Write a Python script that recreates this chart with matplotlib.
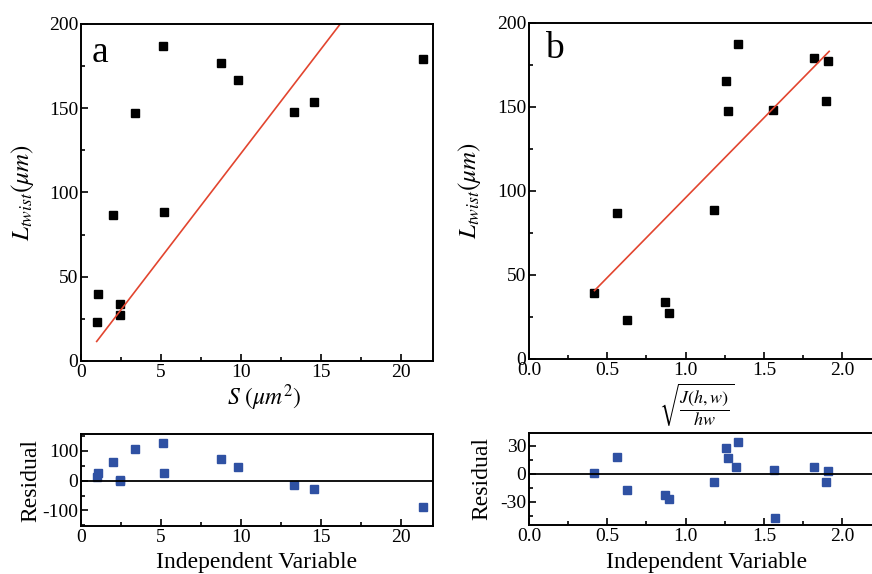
import numpy as np
import matplotlib
matplotlib.use('Agg')
import matplotlib.pyplot as plt
from matplotlib.ticker import MultipleLocator

plt.rcParams['font.family'] = ['Liberation Serif', 'DejaVu Serif']
plt.rcParams['mathtext.fontset'] = 'stix'
plt.rcParams['axes.unicode_minus'] = False

# Panel a: L_twist vs S
s_area = np.array([0.98, 1.08, 2.02, 2.42, 2.46, 3.39, 5.10, 5.18, 8.74, 9.84, 13.3, 14.57, 21.4])
l_twist_a = np.array([23.3, 39.6, 86.5, 27.3, 33.6, 147.3, 187.0, 88.3, 177.0, 167.0, 148.0, 153.5, 179.0])
fit_a_x = np.array([0.98, 16.2])
fit_a_y = np.array([11.6, 200.0])
resid_a_x = np.array([0.98, 1.08, 2.02, 2.42, 2.46, 3.39, 5.10, 5.18, 8.74, 9.84, 13.3, 14.57, 21.4])
resid_a = np.array([11, 27, 62, 2, 0, 107, 127, 27, 71, 47, -16, -27, -87])

# Panel b: L_twist vs sqrt(J(h,w)/hw)
j_ratio = np.array([0.418, 0.561, 0.623, 0.871, 0.892, 1.182, 1.259, 1.272, 1.332, 1.560, 1.821, 1.895, 1.910])
l_twist_b = np.array([39.3, 86.7, 23.4, 34.1, 27.2, 88.7, 165.7, 147.8, 187.5, 148.4, 179.4, 153.6, 177.4])
fit_b_x = np.array([0.418, 1.917])
fit_b_y = np.array([40.7, 183.1])
resid_b_x = np.array([0.418, 0.561, 0.623, 0.871, 0.892, 1.180, 1.259, 1.272, 1.321, 1.332,
                      1.562, 1.573, 1.820, 1.895, 1.910])
resid_b = np.array([0.7, 18.6, -17.0, -23.0, -27.0, -8.9, 28.2, 17.1, 7.8, 34.6,
                    3.9, -47.5, 7.5, -8.6, 3.2])

black_sq = dict(marker='s', color='black', ms=5.2, ls='none')
blue_sq = dict(marker='s', color='#2f51a3', ms=5.2, ls='none')
red_line = dict(color='#e2452f', lw=1.2)


def style(ax, xmaj, xmin, ymaj, ymin):
    ax.xaxis.set_major_locator(MultipleLocator(xmaj))
    ax.xaxis.set_minor_locator(MultipleLocator(xmin))
    ax.yaxis.set_major_locator(MultipleLocator(ymaj))
    ax.yaxis.set_minor_locator(MultipleLocator(ymin))
    ax.tick_params(which='both', direction='in', top=False, right=False,
                   labelsize=14, pad=2, width=1.2)
    ax.tick_params(which='major', length=5)
    ax.tick_params(which='minor', length=3)
    for sp in ax.spines.values():
        sp.set_linewidth(1.4)


fig = plt.figure(figsize=(8.72, 5.74), dpi=100)

# panel a, top
ax1 = fig.add_axes([0.0929, 0.3711, 0.4037, 0.5871])
ax1.plot(s_area, l_twist_a, **black_sq)
ax1.plot(fit_a_x, fit_a_y, **red_line)
ax1.set_xlim(0, 22)
ax1.set_ylim(0, 200)
style(ax1, 5, 2.5, 50, 25)
ax1.set_ylabel(r'$L_{twist}(\mu m)$', fontsize=18, va='center')
ax1.yaxis.set_label_coords(-0.165, 0.5)
ax1.set_xlabel(r'$S\ (\mu m^2)$', fontsize=17, va='center')
ax1.xaxis.set_label_coords(0.52, -0.11)
ax1.text(0.03, 0.887, 'a', transform=ax1.transAxes, fontsize=27)

# panel a, residuals
ax2 = fig.add_axes([0.0929, 0.0836, 0.4037, 0.1603])
ax2.plot(resid_a_x, resid_a, **blue_sq)
ax2.axhline(0, color='black', lw=1.3)
ax2.set_xlim(0, 22)
ax2.set_ylim(-152, 156)
style(ax2, 5, 2.5, 100, 50)
ax2.set_ylabel('Residual', fontsize=17, va='center')
ax2.yaxis.set_label_coords(-0.142, 0.5)
ax2.set_xlabel('Independent Variable', fontsize=17, va='center')
ax2.xaxis.set_label_coords(0.5, -0.40)

# panel b, top
ax3 = fig.add_axes([0.6067, 0.3746, 0.3950, 0.5854])
ax3.plot(j_ratio, l_twist_b, **black_sq)
ax3.plot(fit_b_x, fit_b_y, **red_line)
ax3.set_xlim(0, 2.2)
ax3.set_ylim(0, 200)
style(ax3, 0.5, 0.25, 50, 25)
ax3.xaxis.set_major_formatter(plt.FormatStrFormatter('%.1f'))
ax3.set_ylabel(r'$L_{twist}(\mu m)$', fontsize=18, va='center')
ax3.yaxis.set_label_coords(-0.172, 0.5)
ax3.set_xlabel(r'$\sqrt{\dfrac{J(h,w)}{hw}}$', fontsize=13, va='center')
ax3.xaxis.set_label_coords(0.488, -0.136)
ax3.text(0.047, 0.896, 'b', transform=ax3.transAxes, fontsize=27)

# panel b, residuals
ax4 = fig.add_axes([0.6067, 0.0854, 0.3950, 0.1603])
ax4.plot(resid_b_x, resid_b, **blue_sq)
ax4.axhline(0, color='black', lw=1.3)
ax4.set_xlim(0, 2.2)
ax4.set_ylim(-55, 44)
style(ax4, 0.5, 0.25, 30, 15)
ax4.xaxis.set_major_formatter(plt.FormatStrFormatter('%.1f'))
ax4.set_ylabel('Residual', fontsize=17, va='center')
ax4.yaxis.set_label_coords(-0.137, 0.5)
ax4.set_xlabel('Independent Variable', fontsize=17, va='center')
ax4.xaxis.set_label_coords(0.515, -0.41)

fig.savefig('out.png', dpi=100)
